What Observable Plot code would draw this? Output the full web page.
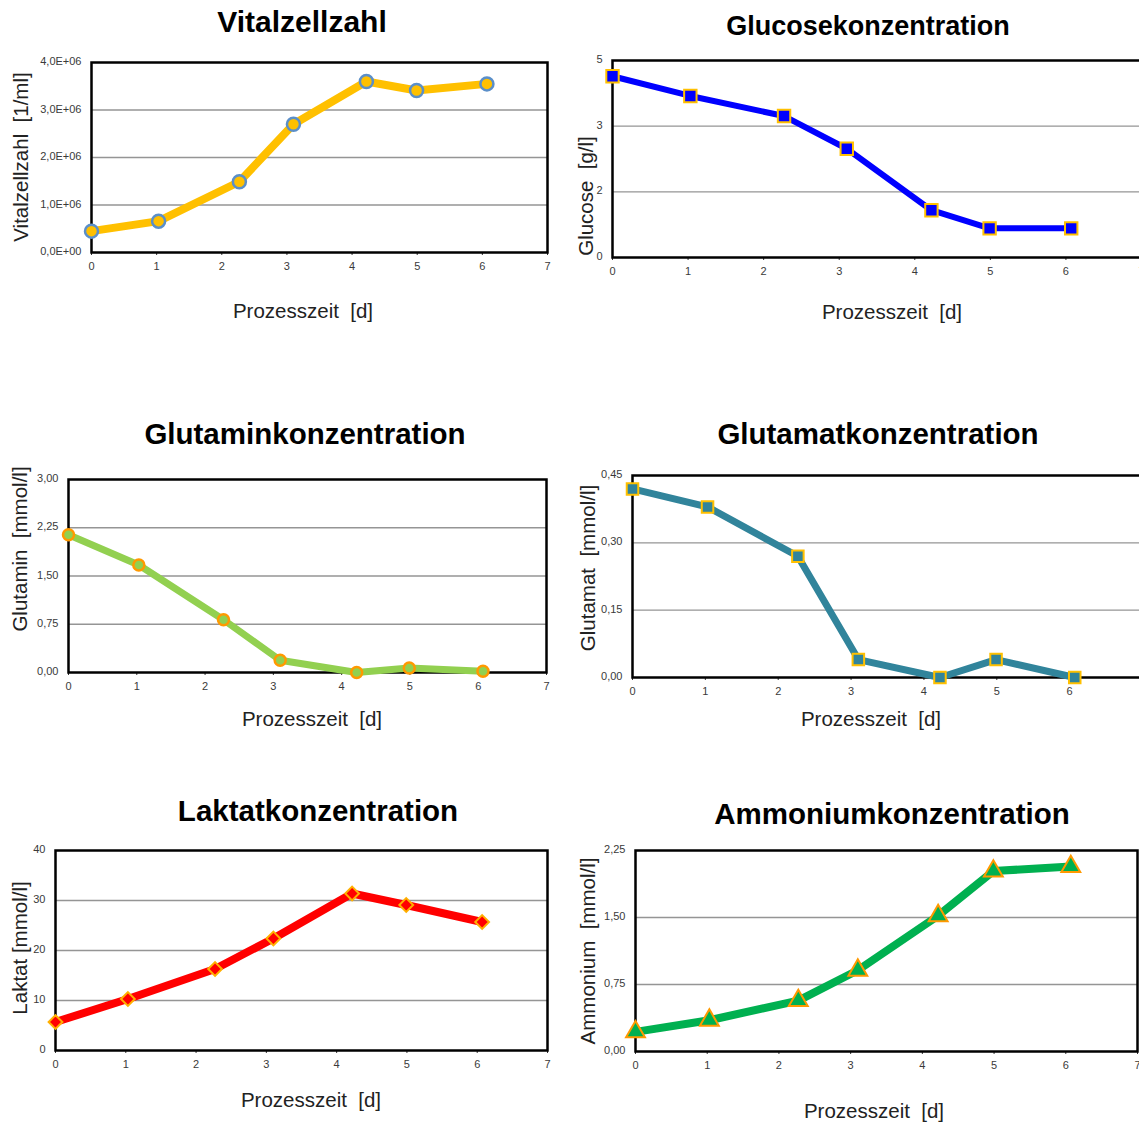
<!DOCTYPE html>
<html><head><meta charset="utf-8">
<script src="https://cdn.jsdelivr.net/npm/d3@7"></script>
<script src="https://cdn.jsdelivr.net/npm/@observablehq/plot@0.6"></script>
<style>
html,body{margin:0;padding:0;background:#fff;}
body{width:1139px;height:1122px;position:relative;overflow:hidden;font-family:"Liberation Sans",Arial,sans-serif;}
.t{position:absolute;transform:translate(-50%,-50%);white-space:pre;font-weight:bold;color:#000;line-height:1;}
.lx{position:absolute;transform:translate(-50%,-50%);white-space:pre;font-size:20.5px;color:#222;line-height:1;}
.ly{position:absolute;transform:translate(-50%,-50%) rotate(-90deg);white-space:pre;font-size:20.5px;color:#222;line-height:1;}
.p{position:absolute;}
.p svg{overflow:visible;max-width:none !important;display:block;}
</style></head><body>
<script>
// Process time [d] of the samples
const days = [0, 1.03, 2.27, 3.1, 4.22, 4.99, 6.07];
const xTicks = [0, 1, 2, 3, 4, 5, 6, 7];

// Series values
const vitalzellzahl = [0.45e6, 0.66e6, 1.49e6, 2.70e6, 3.60e6, 3.41e6, 3.55e6];
const glucose = [4.60, 4.10, 3.59, 2.76, 1.20, 0.74, 0.74];
const glutamin = [2.14, 1.67, 0.82, 0.19, 0.0, 0.07, 0.02];
const glutamat = [0.42, 0.38, 0.27, 0.04, 0.0, 0.04, 0.0];
const laktat = [5.7, 10.3, 16.3, 22.4, 31.4, 29.1, 25.7];
const ammonium = [0.22, 0.35, 0.57, 0.91, 1.52, 2.02, 2.07];

// Y tick values
const vitalTicks = [0, 1e6, 2e6, 3e6, 4e6];
const glucoseTicks = [0, 5/3, 10/3, 5];
const glutaminTicks = [0, 0.75, 1.5, 2.25, 3];
const glutamatTicks = [0, 0.15, 0.3, 0.45];
const laktatTicks = [0, 10, 20, 30, 40];
const ammoniumTicks = [0, 0.75, 1.5, 2.25];

// Titles and labels
const titles = ["Vitalzellzahl", "Glucosekonzentration", "Glutaminkonzentration", "Glutamatkonzentration", "Laktatkonzentration", "Ammoniumkonzentration"];
const yLabels = ["Vitalzellzahl  [1/ml]", "Glucose  [g/l]", "Glutamin  [mmol/l]", "Glutamat  [mmol/l]", "Laktat [mmol/l]", "Ammonium  [mmol/l]"];
const xLabel = "Prozesszeit  [d]";

const comma = (n) => (d) => d.toFixed(n).replace(".", ",");
const sci = (d) => d === 0 ? "0,0E+00" : (d / 1e6).toFixed(1).replace(".", ",") + "E+06";

function addDiv(cls, text, x, y, extra) {
  const el = document.createElement("div");
  el.className = cls;
  el.textContent = text;
  el.style.left = x + "px";
  el.style.top = y + "px";
  if (extra) Object.assign(el.style, extra);
  document.body.appendChild(el);
}

function panel(o) {
  const data = days.map((d, i) => ({x: d, y: o.values[i]}));
  const [bx, by, bw, bh] = o.box;
  const [fl, fr, ft, fb] = o.frame;
  const yMax = o.yTicks[o.yTicks.length - 1];
  const chart = Plot.plot({
    width: bw, height: bh,
    marginLeft: fl - bx, marginRight: bx + bw - fr,
    marginTop: ft - by, marginBottom: by + bh - fb,
    x: {domain: [0, 7]},
    y: {domain: [0, yMax]},
    style: {fontFamily: "Liberation Sans, Arial, sans-serif", fontSize: "11px", color: "#3a3a3a", background: "transparent", overflow: "visible"},
    marks: [
      Plot.gridY(o.yTicks.filter(t => t > 0 && t < yMax), {stroke: "#959595", strokeOpacity: 1, strokeWidth: 1.4}),
      Plot.axisX(xTicks, {tickSize: 3, tickPadding: 7, label: null, stroke: "#333"}),
      Plot.axisY(o.yTicks, {tickSize: 0, tickPadding: 10, tickFormat: o.fmt, label: null, dy: -1}),
      Plot.frame({stroke: "#000", strokeWidth: 2.5}),
      Plot.line(data, {x: "x", y: "y", stroke: o.color, strokeWidth: o.lw, strokeLinejoin: "round"}),
      Plot.dot(data, {x: "x", y: "y", symbol: o.symbol, r: o.r, fill: o.fill, stroke: o.mstroke, strokeWidth: o.msw || 2})
    ]
  });
  const wrap = document.createElement("div");
  wrap.className = "p";
  wrap.style.left = bx + "px";
  wrap.style.top = by + "px";
  wrap.style.width = bw + "px";
  wrap.style.height = bh + "px";
  wrap.appendChild(chart);
  document.body.appendChild(wrap);
  addDiv("t", o.title, o.titlePos[0], o.titlePos[1], {fontSize: o.titleSize + "px"});
  addDiv("ly", o.yLabel, o.yLabelPos[0], o.yLabelPos[1]);
  addDiv("lx", xLabel, o.xLabelPos[0], o.xLabelPos[1]);
}

panel({box: [0, 0, 565, 380], frame: [91, 547, 62, 252], values: vitalzellzahl, yTicks: vitalTicks, fmt: sci,
  color: "#FFC000", lw: 8, symbol: "circle", r: 6.5, fill: "#FFC000", mstroke: "#5B8FC9", msw: 2.5,
  title: titles[0], titleSize: 30, titlePos: [302, 22], yLabel: yLabels[0], yLabelPos: [21, 157], xLabelPos: [303, 311]});

panel({box: [565, 0, 600, 380], frame: [612, 1141, 60, 257], values: glucose, yTicks: glucoseTicks, fmt: d => String(Math.round(d)),
  color: "#0000FF", lw: 6, symbol: "square", r: 7, fill: "#0000FF", mstroke: "#FFC000", msw: 2,
  title: titles[1], titleSize: 27, titlePos: [868, 26], yLabel: yLabels[1], yLabelPos: [586, 196], xLabelPos: [892, 312]});

panel({box: [0, 380, 565, 380], frame: [68, 546, 479, 672], values: glutamin, yTicks: glutaminTicks, fmt: comma(2),
  color: "#92D050", lw: 7, symbol: "circle", r: 5.5, fill: "#92D050", mstroke: "#FF9900", msw: 2.5,
  title: titles[2], titleSize: 29.5, titlePos: [305, 434], yLabel: yLabels[2], yLabelPos: [20, 549], xLabelPos: [312, 719]});

panel({box: [565, 380, 600, 380], frame: [632, 1142, 475, 677], values: glutamat, yTicks: glutamatTicks, fmt: comma(2),
  color: "#31849B", lw: 7, symbol: "square", r: 6.5, fill: "#31849B", mstroke: "#FFC000", msw: 2,
  title: titles[3], titleSize: 29.5, titlePos: [878, 434], yLabel: yLabels[3], yLabelPos: [588, 568], xLabelPos: [871, 719]});

panel({box: [0, 760, 565, 362], frame: [55, 547, 850, 1050], values: laktat, yTicks: laktatTicks, fmt: d => String(d),
  color: "#FF0000", lw: 8, symbol: "diamond2", r: 6.2, fill: "#FF0000", mstroke: "#FFB000", msw: 2,
  title: titles[4], titleSize: 29.5, titlePos: [318, 811], yLabel: yLabels[4], yLabelPos: [20, 948], xLabelPos: [311, 1100]});

panel({box: [565, 760, 600, 362], frame: [635, 1137, 850, 1051], values: ammonium, yTicks: ammoniumTicks, fmt: comma(2),
  color: "#00B050", lw: 8, symbol: "triangle", r: 7, fill: "#00B050", mstroke: "#FF9900", msw: 2,
  title: titles[5], titleSize: 29.5, titlePos: [892, 814], yLabel: yLabels[5], yLabelPos: [588, 951], xLabelPos: [874, 1111]});
</script>
</body></html>
